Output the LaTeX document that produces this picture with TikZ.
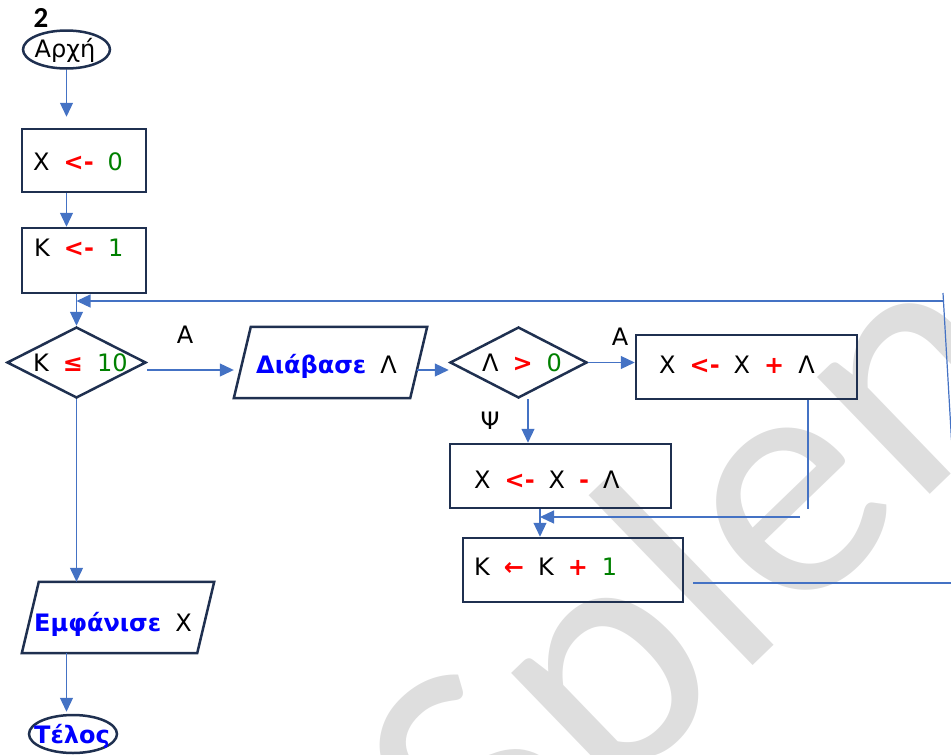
\documentclass[tikz,border=0pt]{standalone}
\usepackage{fontspec}
\setmainfont{DejaVu Sans}
\newfontfamily\wmfont{Carlito}
\newfontfamily\numfont{Carlito}
\usetikzlibrary{arrows.meta,shapes.geometric,calc}
\definecolor{navy}{HTML}{1F3050}
\definecolor{connblue}{HTML}{4472C4}
\definecolor{wmgray}{HTML}{DEDEDE}
\definecolor{kwgreen}{HTML}{008000}
\definecolor{kwblue}{HTML}{0000FF}
\definecolor{kwred}{HTML}{FF0000}
\newcommand\gp{\hspace{14pt}}
\newcommand\rd[1]{\textcolor{kwred}{\bfseries #1}}
\newcommand\gr[1]{\textcolor{kwgreen}{#1}}
\newcommand\bl[1]{\textcolor{kwblue}{\bfseries #1}}
\begin{document}
\begin{tikzpicture}[x=1pt,y=-1pt,
  shapeline/.style={draw=navy, line width=2.5pt},
  boxnode/.style={shapeline, rectangle, inner sep=0pt},
  ovalnode/.style={shapeline, ellipse, inner sep=0pt},
  decnode/.style={shapeline, diamond, inner sep=0pt},
  ghost/.style={rectangle, inner sep=0pt},
  link/.style={draw=connblue, line width=1.2pt},
  arr/.style={link, -{Triangle[length=14pt,width=13pt]}},
  txt/.style={font=\fontsize{24}{28}\selectfont, inner sep=0pt, anchor=base west},
  lbl/.style={font=\fontsize{24}{28}\selectfont, inner sep=0pt, anchor=base},
  wmtext/.style={font=\wmfont\fontsize{340}{340}\selectfont, text=wmgray, inner sep=0pt},
]
\useasboundingbox (0,0) rectangle (951,755);
\begin{scope}
\clip (0,0) rectangle (951,755);
\node[wmtext, rotate=44, anchor=base west] (wmark) at (495,915) {Splendid};
\end{scope}

% shapes
\node[ovalnode, minimum width=87pt, minimum height=38pt] (start) at (66.5,49.5) {};
\node[boxnode, minimum width=124pt, minimum height=63pt] (b1) at (84,160.5) {};
\node[boxnode, minimum width=124pt, minimum height=65pt] (b2) at (84,260.5) {};
\node[decnode, minimum width=139pt, minimum height=71pt] (d1) at (76.5,362.5) {};
\node[ghost, minimum width=193pt, minimum height=71pt] (read) at (330.5,362.5) {};
\draw[shapeline] (read.south west) -- ($(read.south east)+(-17,0)$) -- (read.north east) -- ($(read.north west)+(17,0)$) -- cycle;
\node[decnode, minimum width=137pt, minimum height=71pt] (d2) at (518.5,362.5) {};
\node[boxnode, minimum width=221pt, minimum height=64pt] (b3) at (746.5,367) {};
\node[boxnode, minimum width=221pt, minimum height=64pt] (b4) at (560.5,476) {};
\node[boxnode, minimum width=220pt, minimum height=64pt] (b5) at (573,570) {};
\node[ghost, minimum width=192pt, minimum height=71pt] (out) at (118,617.5) {};
\draw[shapeline] (out.south west) -- ($(out.south east)+(-17,0)$) -- (out.north east) -- ($(out.north west)+(17,0)$) -- cycle;
\node[ovalnode, minimum width=88pt, minimum height=38pt] (end) at (73,734) {};

% texts
\node[font=\numfont\bfseries\fontsize{29}{29}\selectfont, inner sep=0pt] (num) at (41,17.5) {2};
\node[lbl] (tstart) at (65,57) {Αρχή};
\node[txt] (t1) at (33,170) {Χ\gp\rd{<-}\gp\gr{0}};
\node[txt] (t2) at (34,256) {Κ\gp\rd{<-}\gp\gr{1}};
\node[txt] (td1) at (33,371) {Κ\gp\rd{≤}\gp\gr{10}};
\node[txt] (tread) at (256,373) {\bl{Διάβασε}\gp Λ};
\node[txt] (td2) at (482,371) {Λ\gp\rd{>}\gp\gr{0}};
\node[txt] (t3) at (659,373) {Χ\gp\rd{<-}\gp Χ\gp\rd{+}\gp Λ};
\node[txt] (t4) at (474,488) {Χ\gp\rd{<-}\gp Χ\gp\rd{-}\gp Λ};
\node[txt] (t5) at (474,575) {Κ\gp\rd{←}\gp Κ\gp\rd{+}\gp\gr{1}};
\node[txt] (tout) at (34,631) {\bl{Εμφάνισε}\gp Χ};
\node[txt] (tend) at (34,743) {\bl{Τέλος}};
\node[lbl] (ya) at (185,343) {Α};
\node[lbl] (yb) at (620,345) {Α};
\node[lbl] (nb) at (490,429) {Ψ};

% connectors
\draw[arr, shorten >=11pt] (start.south) -- (start.south |- b1.north);
\draw[arr] (start.south |- b1.south) -- (start.south |- b2.north);
\draw[arr] (d1.north |- b2.south) -- (d1.north);
\coordinate (fbR) at (944,301);
\draw[arr] (fbR) -- (d1.north |- fbR);
\coordinate (rtop) at (943,293);
\coordinate (rbot) at (951.5,440);
\draw[link] (rtop) -- (rbot);
\draw[arr] ([yshift=-7.5pt]d1.east) -- ([yshift=-7.5pt]d1.east -| read.west);
\draw[arr] ($(read.east)+(-10,7.5)$) -- ([yshift=-7.5pt]d2.west);
\draw[arr] (d2.east) -- (d2.east -| b3.west);
\coordinate (d2out) at ($(d2.south)+(9.5,0)$);
\draw[arr] (d2out) -- (d2out |- b4.north);
\coordinate (b3out) at ($(b3.south)+(61.5,0)$);
\draw[link] (b3out) -- ++(0,109);
\coordinate (mr) at (800,517);
\coordinate (b4out) at ($(b4.south)+(-20.5,0)$);
\draw[arr] (mr) -- (b4out |- mr);
\draw[arr] (b4out) -- (b4out |- b5.north);
\coordinate (rb) at (951.5,583);
\draw[link] ($(b5.east)+(9,13)$) -- (rb);
\draw[arr] (d1.south) -- (d1.south |- out.north);
\draw[arr, shorten >=2pt] (start.south |- out.south) -- (start.south |- end.north);
\end{tikzpicture}
\end{document}
